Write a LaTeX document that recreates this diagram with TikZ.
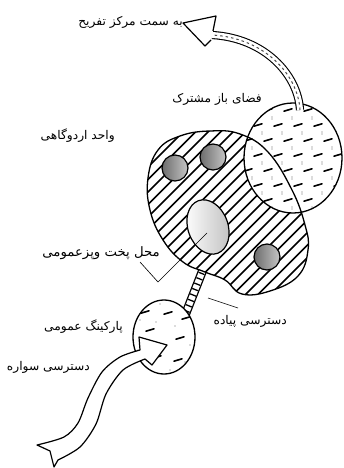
\documentclass[tikz,border=0pt]{standalone}
\usepackage{fontspec}
\newfontfamily\fa[Script=Arabic]{DejaVu Sans}
\TeXXeTstate=1
\tikzset{
  outl/.style={line width=1.3pt},
  lbl/.style={font=\fa\fontsize{12}{14}\selectfont, inner sep=0pt, anchor=east, xscale=1.02},
  leader/.style={line width=0.6pt},
  dashmark/.style={line width=1.6pt, line cap=round},
  dotmark/.style={fill=gray!55},
}
\def\campshape{plot[smooth cycle, tension=0.7] coordinates {(148,178) (158,150) (180,136) (210,131) (240,134) (268,152) (292,190) (305,225) (308,250) (298,276) (270,291) (242,294) (225,280) (205,272) (183,262) (163,240) (150,210)}}
\begin{document}
\begin{tikzpicture}[x=1pt,y=-1pt]
\useasboundingbox[fill=white] (0,0) rectangle (343,468);

% ---- pedestrian ladder (under the camp unit edge)
\coordinate (pedA) at (206,262);
\coordinate (pedB) at (184,318);
\draw[line width=9pt] (pedA) -- (pedB);
\draw[line width=6.4pt, white] (pedA) -- (pedB);
\draw[line width=6.4pt, dash pattern=on 1.3pt off 4.5pt] (pedA) -- (pedB);
\draw[outl, fill=white] (182,322) circle (5.5);

% ---- camp unit (hatched)
\begin{scope}
  \clip \campshape;
  \fill[white] (140,120) rectangle (320,300);
  \foreach \i in {-30,...,20} { \draw[line width=1.7pt] ({140+\i*12.5},300) -- ++(200,-200); }
\end{scope}

% ---- shared open space (dotted)
\node[inner sep=0pt] (open) at (293,158) {};
\begin{scope}
  \clip (293,158) ellipse [x radius=49, y radius=55];
  \fill[white] (240,100) rectangle (343,215);
  \foreach \r in {0,...,7} {
    \foreach \c in {0,...,5} {
      \pgfmathsetmacro\xx{248+\c*20+mod(\r,2)*10}
      \pgfmathsetmacro\yy{110+\r*15}
      \draw[dashmark] (\xx-4,\yy+1.2) -- (\xx+4,\yy-1.2);
      \fill[dotmark] (\xx+4,\yy+7) circle (0.9);
      \fill[dotmark] (\xx-6,\yy-6) circle (0.8);
    }
  }
\end{scope}
\draw[outl] (293,158) ellipse [x radius=49, y radius=55];
% camp outline on top
\draw[outl] \campshape;

% ---- grey huts
\foreach \p in {{(175,168)}, {(213,157)}, {(267,257)}} {
  \path[draw, line width=1.2pt, left color=gray!85!black, right color=gray!45] \p circle (13);
}

% ---- cooking place
\path[draw, line width=1.2pt, left color=white, right color=gray!50, rotate around={20:(208,227)}] (208,227) ellipse [x radius=20, y radius=28];
\coordinate (cook) at (207,233);

% ---- parking (dotted)
\node[inner sep=0pt] (park) at (164,337) {};
\begin{scope}
  \clip (164,337) ellipse [x radius=31, y radius=37];
  \fill[white] (130,298) rectangle (198,376);
  \foreach \x/\y in {145/312, 168/313, 180/338, 157/357, 178/360, 150/330, 186/318}
    { \draw[dashmark] (\x-4,\y+1.2) -- (\x+4,\y-1.2); }
  \foreach \x/\y in {140/320, 156/322, 175/326, 190/345, 163/345, 145/368, 170/370, 185/362, 150/300, 160/304, 138/350}
    { \fill[dotmark] (\x,\y) circle (0.9); }
\end{scope}
\draw[outl] (164,337) ellipse [x radius=31, y radius=37];

% ---- vehicle access ribbon
\filldraw[fill=white, line width=1.2pt, line join=round]
  plot[smooth] coordinates {(37,445) (64,437) (78,423) (88,398) (102,372) (120,357) (140,350)}
  -- (139,337) -- (167,345) -- (152,365) -- (145,359)
  -- plot[smooth] coordinates {(145,359) (123,370) (106,394) (96,424) (80,447) (58,460)}
  -- (54,467) -- (50,451) -- cycle;

% ---- top arrow to recreation centre
\coordinate (arrS) at (300,110);
\coordinate (arrE) at (212,35);
\draw[line width=1.1pt, double=white, double distance=6pt] (arrS) .. controls (298,75) and (265,38) .. (arrE);
\draw[line width=1pt, gray!60!black, dash pattern=on 2.5pt off 3pt] (arrS) .. controls (298,75) and (265,38) .. (arrE);
\fill[white] (213,31) -- (216,16) -- (183,23) -- (205,46) -- (211,40) -- cycle;
\draw[line width=1.2pt, line join=round] (213,31) -- (216,16) -- (183,23) -- (205,46) -- (211,40);

% ---- labels
\node[lbl] (tRec) at (183,22) {\fa\beginR به سمت مرکز تفریح\endR};
\node[lbl] (tOpen) at (262,99) {\fa\beginR فضای باز مشترک\endR};
\node[lbl] (tCamp) at (115,136) {\fa\beginR واحد اردوگاهی\endR};
\node[lbl, font=\fa\fontsize{13}{15}\selectfont, xscale=1.0] (tCook) at (160,253) {\fa\beginR محل پخت وپزعمومی\endR};
\node[lbl] (tPed) at (287,321) {\fa\beginR دسترسی پیاده\endR};
\node[lbl] (tPark) at (123,327) {\fa\beginR پارکینگ عمومی\endR};
\node[lbl] (tCar) at (90,367) {\fa\beginR دسترسی سواره\endR};

% ---- leaders
\coordinate (cookL1) at (140,262);
\coordinate (cookL2) at (158,282);
\draw[leader] (cookL1) -- (cookL2) -- (cook);
\coordinate (pedL1) at (208,298);
\coordinate (pedL2) at (238,308);
\draw[leader] (pedL1) -- (pedL2);
\end{tikzpicture}
\end{document}
